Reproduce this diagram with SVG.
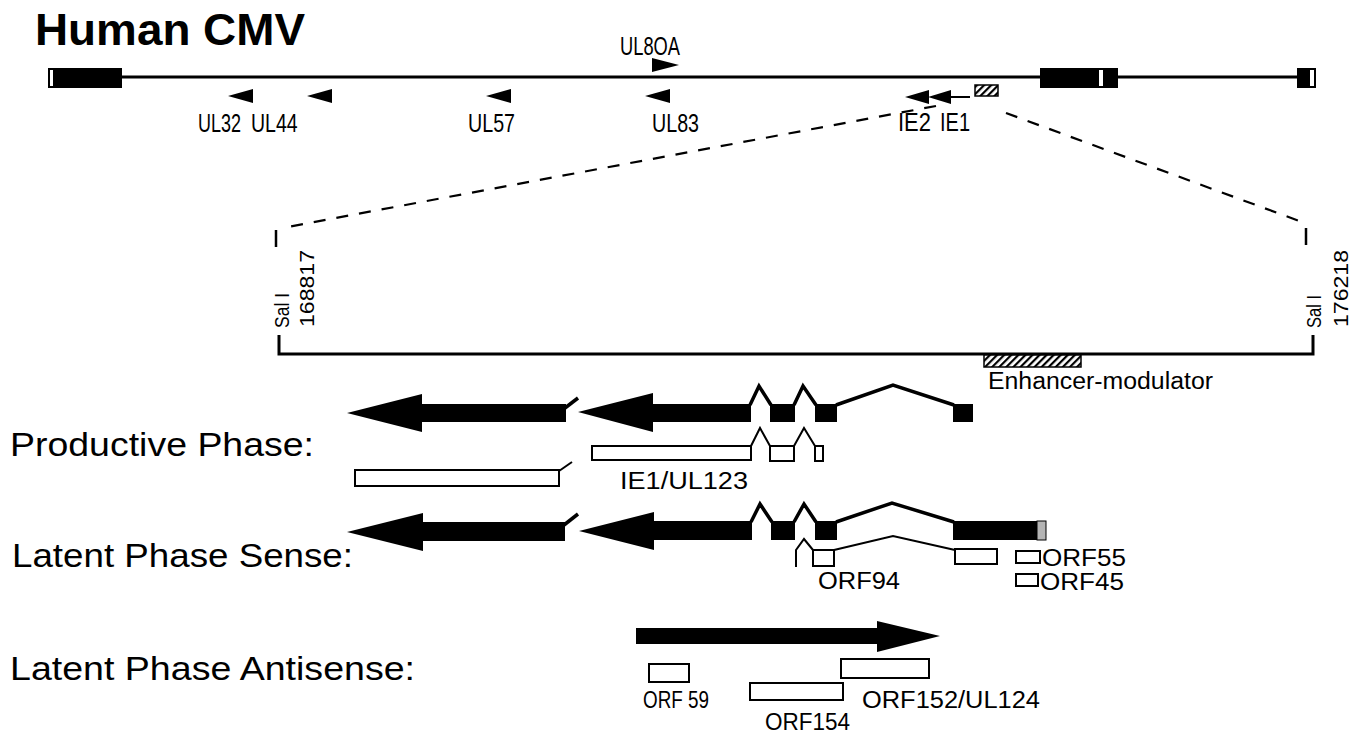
<svg xmlns="http://www.w3.org/2000/svg" width="1361" height="734" viewBox="0 0 1361 734">
<defs>
<pattern id="hatch" patternUnits="userSpaceOnUse" width="5" height="5" patternTransform="rotate(45)">
<rect width="5" height="5" fill="#fff"/>
<line x1="1" y1="0" x2="1" y2="5" stroke="#000" stroke-width="2.4"/>
</pattern>
<style>
.t{font-family:"Liberation Sans",Arial,Helvetica,sans-serif;fill:#000}
.lbl{font-size:23px}
.top{font-size:25px}
.ph{font-size:33px}
.blk{fill:#000;stroke:none}
.thick{fill:none;stroke:#000;stroke-width:3.5;stroke-linejoin:miter}
.open{fill:#fff;stroke:#000;stroke-width:2}
.thin{fill:none;stroke:#000;stroke-width:2}
.dash{fill:none;stroke:#000;stroke-width:2.2;stroke-dasharray:12 11}
</style>
</defs>
<rect width="1361" height="734" fill="#fff"/>

<g id="title"><text class="t" x="35" y="45" font-size="45" font-weight="bold" textLength="270" lengthAdjust="spacingAndGlyphs">Human CMV</text></g>

<g id="genome">
<line x1="50" y1="77" x2="1316" y2="77" stroke="#000" stroke-width="3"/>
<rect class="blk" x="48" y="68" width="74" height="20"/>
<rect x="50" y="70" width="3" height="16" fill="#fff"/>
<rect class="blk" x="1040" y="68" width="78" height="20"/>
<rect x="1099" y="70" width="4" height="16" fill="#fff"/>
<rect class="blk" x="1297" y="68" width="19" height="20"/>
<rect x="1310" y="70" width="4" height="16" fill="#fff"/>
<rect x="975" y="85" width="23" height="11" fill="url(#hatch)" stroke="#000" stroke-width="1.5"/>
</g>

<g id="genes-top">
<polygon class="blk" points="652,58 679,65 652,72"/>
<text class="t top" x="620" y="55" textLength="60" lengthAdjust="spacingAndGlyphs">UL8OA</text>
<polygon class="blk" points="228,96 253,89 253,103"/>
<text class="t top" transform="translate(198,132) scale(0.72,1)">UL32</text>
<polygon class="blk" points="307,96 332,89 332,103"/>
<text class="t top" transform="translate(251,132) scale(0.78,1)">UL44</text>
<polygon class="blk" points="486,96 511,89 511,103"/>
<text class="t top" x="468" y="132" textLength="47" lengthAdjust="spacingAndGlyphs">UL57</text>
<polygon class="blk" points="645,96 670,89 670,103"/>
<text class="t top" x="652" y="132" textLength="47" lengthAdjust="spacingAndGlyphs">UL83</text>
<polygon class="blk" points="905,97 929,90 929,104"/>
<polygon class="blk" points="928,97 951,90 951,104"/>
<line x1="948" y1="97" x2="970" y2="97" stroke="#000" stroke-width="2"/>
<text class="t top" x="898" y="131" textLength="33" lengthAdjust="spacingAndGlyphs">IE2</text>
<text class="t top" x="940" y="131" textLength="30" lengthAdjust="spacingAndGlyphs">IE1</text>
</g>

<g id="connectors">
<line class="dash" x1="936" y1="106" x2="282" y2="228"/>
<line class="dash" x1="1006" y1="113" x2="1302" y2="222"/>
</g>

<g id="expanded-region">
<line x1="276" y1="230" x2="276" y2="247" stroke="#000" stroke-width="2.5"/>
<line x1="1306" y1="228" x2="1306" y2="245" stroke="#000" stroke-width="2.5"/>
<path d="M279,335 L279,354 L1313,354 L1313,335" fill="none" stroke="#000" stroke-width="3"/>
<text class="t" font-size="21" textLength="35" lengthAdjust="spacingAndGlyphs" transform="translate(289,328) rotate(-90)">Sal I</text>
<text class="t" font-size="21" textLength="77" lengthAdjust="spacingAndGlyphs" transform="translate(314,327) rotate(-90)">168817</text>
<text class="t" font-size="21" textLength="33" lengthAdjust="spacingAndGlyphs" transform="translate(1321,328) rotate(-90)">Sal I</text>
<text class="t" font-size="21" textLength="77" lengthAdjust="spacingAndGlyphs" transform="translate(1348,327) rotate(-90)">176218</text>
<rect x="984" y="355" width="97" height="12" fill="url(#hatch)" stroke="#000" stroke-width="1.5"/>
<text class="t lbl" x="988" y="389" textLength="225" lengthAdjust="spacingAndGlyphs">Enhancer-modulator</text>
</g>

<g id="productive">
<text class="t ph" x="10" y="456" textLength="304" lengthAdjust="spacingAndGlyphs">Productive Phase:</text>
<polygon class="blk" points="347,413 422,394 422,404 566,404 566,422 422,422 422,432"/>
<path class="thick" d="M565,408 L578,398"/>
<polygon class="blk" points="578,412 653,393 653,404 751,404 751,422 653,422 653,432"/>
<rect class="blk" x="770" y="404" width="25" height="18"/>
<rect class="blk" x="815" y="404" width="22" height="18"/>
<rect class="blk" x="953" y="404" width="20" height="18"/>
<path class="thick" d="M750,405 L759,386 L771,405 M794,405 L803,386 L816,405 M836,405 L893,385 L954,405"/>
<rect class="open" x="355" y="470" width="204" height="16"/>
<path class="thin" d="M559,471 L572,462"/>
<rect class="open" x="592" y="446" width="159" height="14"/>
<path class="thin" d="M751,446 L760,428 L770,446 M794,446 L804,428 L815,446"/>
<rect class="open" x="770" y="446" width="24" height="15"/>
<rect class="open" x="815" y="446" width="8" height="15"/>
<text class="t lbl" x="620" y="489" textLength="128" lengthAdjust="spacingAndGlyphs">IE1/UL123</text>
</g>

<g id="latent-sense">
<text class="t ph" x="12" y="567" textLength="341" lengthAdjust="spacingAndGlyphs">Latent Phase Sense:</text>
<polygon class="blk" points="347,532 423,513 423,522 565,522 565,541 423,541 423,551"/>
<path class="thick" d="M564,525 L578,514"/>
<polygon class="blk" points="579,531 654,512 654,521 752,521 752,540 654,540 654,550"/>
<rect class="blk" x="771" y="521" width="24" height="19"/>
<rect class="blk" x="815" y="521" width="22" height="19"/>
<rect class="blk" x="953" y="521" width="84" height="19"/>
<rect x="1037" y="521" width="9" height="19" fill="#b4b4b4" stroke="#000" stroke-width="1"/>
<path class="thick" d="M751,522 L760,504 L772,522 M794,522 L804,504 L816,522 M836,522 L892,503 L954,522"/>
<path class="thin" d="M796,567 L796,550 L804,539 L813,550 M834,550 L893,536 L955,550"/>
<rect class="open" x="813" y="550" width="21" height="16"/>
<rect class="open" x="955" y="549" width="42" height="15"/>
<rect class="open" x="1016" y="551" width="24" height="12"/>
<rect class="open" x="1016" y="574" width="22" height="12"/>
<text class="t lbl" x="818" y="589" textLength="82" lengthAdjust="spacingAndGlyphs">ORF94</text>
<text class="t lbl" x="1042" y="566" textLength="84" lengthAdjust="spacingAndGlyphs">ORF55</text>
<text class="t lbl" x="1040" y="590" textLength="84" lengthAdjust="spacingAndGlyphs">ORF45</text>
</g>

<g id="latent-antisense">
<text class="t ph" x="10" y="680" textLength="405" lengthAdjust="spacingAndGlyphs">Latent Phase Antisense:</text>
<polygon class="blk" points="636,628 877,628 877,621 940,636 877,652 877,644 636,644"/>
<rect class="open" x="649" y="664" width="40" height="18"/>
<rect class="open" x="750" y="683" width="93" height="17"/>
<rect class="open" x="841" y="659" width="88" height="19"/>
<text class="t" font-size="24" x="643" y="708" textLength="66" lengthAdjust="spacingAndGlyphs">ORF 59</text>
<text class="t lbl" x="765" y="730" textLength="85" lengthAdjust="spacingAndGlyphs">ORF154</text>
<text class="t lbl" x="862" y="708" textLength="178" lengthAdjust="spacingAndGlyphs">ORF152/UL124</text>
</g>
</svg>
